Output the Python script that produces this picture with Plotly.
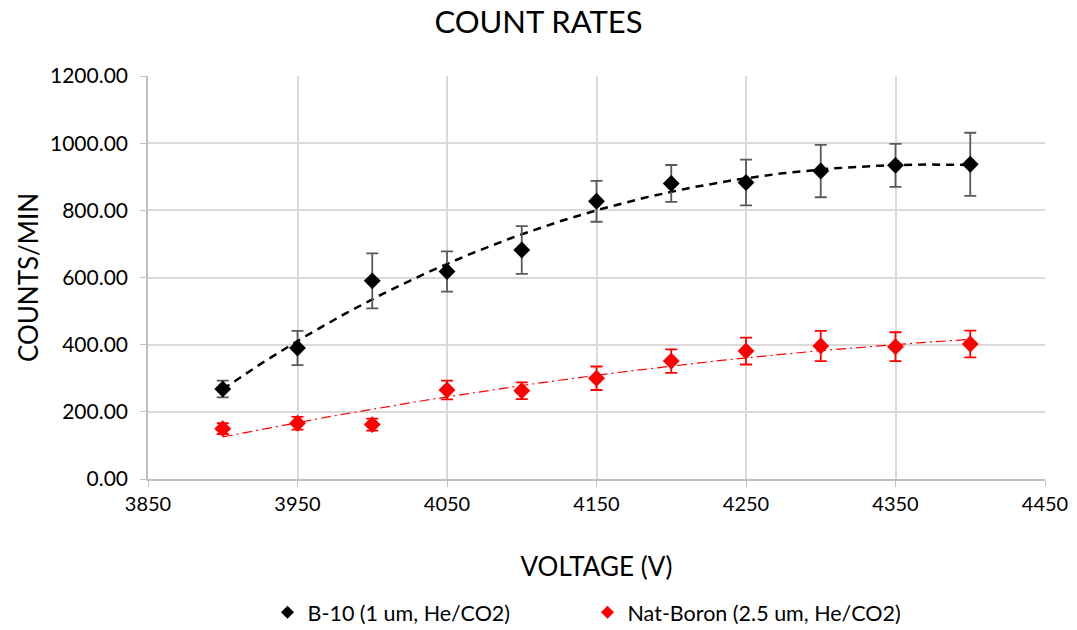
import numpy as np
import plotly.graph_objects as go

voltage = [3900, 3950, 4000, 4050, 4100, 4150, 4200, 4250, 4300, 4350, 4400]
b10_counts = [268, 390, 590, 618, 682, 827, 880, 883, 917, 934, 937]
b10_err = [25, 51, 82, 60, 71, 61, 55, 68, 78, 64, 94]
nat_counts = [150, 166, 162, 265, 263, 300, 351, 381, 396, 394, 402]
nat_err = [16, 19, 18, 28, 25, 35, 35, 40, 45, 43, 40]

b10_name = "B-10 (1 um, He/CO2)"
nat_name = "Nat-Boron (2.5 um, He/CO2)"

FONT = "Lato, 'Open Sans', sans-serif"

# Excel-style trendlines (polynomial fits of the data)
xs = np.linspace(min(voltage), max(voltage), 200)
b10_fit = np.polyval(np.polyfit(voltage, b10_counts, 3), xs)
nat_fit = np.polyval(np.polyfit(voltage, nat_counts, 2), xs)

fig = go.Figure()

fig.add_trace(go.Scatter(
    x=xs, y=b10_fit, mode="lines", showlegend=False, hoverinfo="skip",
    line=dict(color="black", width=2.5, dash="8px,6px")))
fig.add_trace(go.Scatter(
    x=xs, y=nat_fit, mode="lines", showlegend=False, hoverinfo="skip",
    line=dict(color="red", width=1.2, dash="10px,4px,2px,4px")))

fig.add_trace(go.Scatter(
    x=voltage, y=b10_counts, mode="markers", name=b10_name, showlegend=False,
    marker=dict(symbol="diamond", size=13, color="black"),
    error_y=dict(type="data", array=b10_err, visible=True,
                 color="#595959", thickness=1.8, width=6)))
fig.add_trace(go.Scatter(
    x=voltage, y=nat_counts, mode="markers", name=nat_name, showlegend=False,
    marker=dict(symbol="diamond", size=13, color="red"),
    error_y=dict(type="data", array=nat_err, visible=True,
                 color="red", thickness=1.8, width=6)))

# legend-only entries with small symbols, as in the reference
fig.add_trace(go.Scatter(x=[None], y=[None], mode="markers", name=b10_name,
                         marker=dict(symbol="diamond", size=10, color="black")))
fig.add_trace(go.Scatter(x=[None], y=[None], mode="markers", name=nat_name,
                         marker=dict(symbol="diamond", size=10, color="red")))

fig.update_layout(
    width=1077, height=630,
    paper_bgcolor="white", plot_bgcolor="white",
    margin=dict(l=148, r=32, t=76, b=151, autoexpand=False),
    font=dict(family=FONT, color="black", size=20),
    title=dict(text="COUNT RATES", x=0.5, xanchor="center", y=0.965, yanchor="middle",
               font=dict(family=FONT, size=31, color="black")),
    legend=dict(orientation="h", x=0.49, xanchor="center",
                yref="container", y=0.028, yanchor="middle",
                font=dict(family=FONT, size=21.5, color="black"),
                itemsizing="trace", tracegroupgap=0, entrywidth=275),
    showlegend=True,
)

fig.update_xaxes(
    range=[3850, 4450], dtick=100, tick0=3850, automargin=False,
    showgrid=True, gridcolor="#d9d9d9", gridwidth=1.5,
    showline=True, linecolor="#bfbfbf", linewidth=1.5, mirror=False,
    ticks="outside", ticklen=6, tickcolor="#bfbfbf",
    zeroline=False,
    tickfont=dict(family=FONT, size=20, color="black"),
    title=dict(text="VOLTAGE (V)", font=dict(family=FONT, size=26, color="black"), standoff=44),
)
fig.update_yaxes(
    range=[0, 1200], dtick=200, tickformat=".2f", automargin=False,
    showgrid=True, gridcolor="#d9d9d9", gridwidth=1.5,
    showline=True, linecolor="#bfbfbf", linewidth=1.5,
    ticks="outside", ticklen=6, tickcolor="#bfbfbf",
    zeroline=False, ticklabelstandoff=8,
    tickfont=dict(family=FONT, size=21, color="black"),
    title=dict(text="COUNTS/MIN", font=dict(family=FONT, size=26, color="black"), standoff=4),
)

fig.write_html("out.html")
